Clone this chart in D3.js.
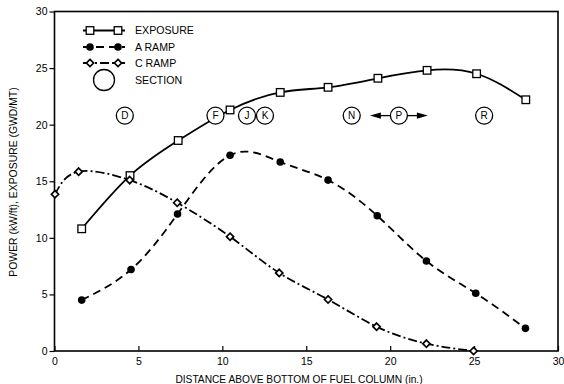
<!DOCTYPE html>
<html>
<head>
<meta charset="utf-8">
<script src="https://cdn.jsdelivr.net/npm/d3@7"></script>
<style>
    body { margin: 0; background: #fff; }
    svg { display: block; font-family: Arial, "Liberation Sans", Helvetica, sans-serif; }
</style>
</head>
<body>
<svg id="chart" width="564" height="384"></svg>
<script>
// distance above bottom of fuel column (in.)
const exposureX = [1.62, 4.5, 7.37, 10.46, 13.45, 16.3, 19.27, 22.2, 25.15, 28.08];
const exposureY = [10.8, 15.5, 18.6, 21.3, 22.85, 23.3, 24.1, 24.8, 24.5, 22.2];

const aRampX = [1.62, 4.56, 7.33, 10.46, 13.45, 16.3, 19.23, 22.16, 25.1, 28.06];
const aRampY = [4.5, 7.2, 12.1, 17.3, 16.7, 15.1, 11.95, 7.95, 5.1, 2.0];

const cRampX = [0.03, 1.44, 4.48, 7.31, 10.46, 13.39, 16.3, 19.19, 22.16, 24.97];
const cRampY = [13.85, 15.85, 15.1, 13.1, 10.1, 6.9, 4.55, 2.15, 0.65, 0.0];

const sectionLabels = ['D', 'F', 'J', 'K', 'N', 'P', 'R'];
const sectionX = [4.19, 9.59, 11.47, 12.54, 17.71, 20.52, 25.6];
const sectionY = 20.8;

const legendLabels = ['EXPOSURE', 'A RAMP', 'C RAMP', 'SECTION'];
const xTicks = [0, 5, 10, 15, 20, 25, 30];
const yTicks = [0, 5, 10, 15, 20, 25, 30];

const svg = d3.select('#chart');

const x = d3.scaleLinear().domain([0, 30]).range([54.5, 558]);
const y = d3.scaleLinear().domain([0, 30]).range([351, 11.5]);

const zip = (xs, ys) => xs.map((v, i) => [v, ys[i]]);

// frame
svg.append('rect')
    .attr('x', x(0)).attr('y', y(30))
    .attr('width', x(30) - x(0)).attr('height', y(0) - y(30))
    .attr('fill', 'none').attr('stroke', '#000').attr('stroke-width', 1.6);

// axes
const xAxis = svg.append('g')
    .attr('transform', `translate(0,${y(0)})`)
    .call(d3.axisBottom(x).tickValues(xTicks).tickSizeInner(-5).tickSizeOuter(0).tickPadding(5));

const yAxis = svg.append('g')
    .attr('transform', `translate(${x(0)},0)`)
    .call(d3.axisLeft(y).tickValues(yTicks).tickSize(5).tickPadding(2));

[xAxis, yAxis].forEach(a => {
    a.select('.domain').remove();
    a.selectAll('line').attr('stroke', '#000').attr('stroke-width', 1.2);
    a.selectAll('text').attr('font-size', 10.5).attr('fill', '#000');
});
xAxis.selectAll('text').attr('dy', '0.9em');

// axis titles
svg.append('text')
    .attr('x', 299).attr('y', 383)
    .attr('text-anchor', 'middle')
    .attr('font-size', 10.2)
    .attr('fill', '#000')
    .text('DISTANCE ABOVE BOTTOM OF FUEL COLUMN (in.)');

svg.append('text')
    .attr('transform', 'translate(17,182) rotate(-90)')
    .attr('text-anchor', 'middle')
    .attr('font-size', 10.4)
    .attr('fill', '#000')
    .text('POWER (kW/ft), EXPOSURE (GWD/MT)');

// curves
const line = d3.line()
    .x(d => x(d[0]))
    .y(d => y(d[1]))
    .curve(d3.curveNatural);

const series = [
    {name: 'exposure', data: zip(exposureX, exposureY), dash: null, marker: 'square'},
    {name: 'aRamp', data: zip(aRampX, aRampY), dash: '8,5', marker: 'dot'},
    {name: 'cRamp', data: zip(cRampX, cRampY), dash: '9,3,2,3', marker: 'diamond'}
];

const drawMarker = (g, type, cx, cy) => {
    if (type === 'square') {
        g.append('rect')
            .attr('x', cx - 3.8).attr('y', cy - 3.8)
            .attr('width', 7.6).attr('height', 7.6)
            .attr('fill', '#fff').attr('stroke', '#000').attr('stroke-width', 1.3);
    } else if (type === 'dot') {
        g.append('circle')
            .attr('cx', cx).attr('cy', cy).attr('r', 3.8)
            .attr('fill', '#000');
    } else {
        g.append('path')
            .attr('d', `M${cx},${cy - 3.6}L${cx + 3.6},${cy}L${cx},${cy + 3.6}L${cx - 3.6},${cy}Z`)
            .attr('fill', '#fff').attr('stroke', '#000').attr('stroke-width', 1.7);
    }
};

series.forEach(s => {
    svg.append('path')
        .datum(s.data)
        .attr('d', line)
        .attr('fill', 'none')
        .attr('stroke', '#000')
        .attr('stroke-width', 1.8)
        .attr('stroke-dasharray', s.dash);
});

series.forEach(s => {
    const g = svg.append('g').attr('class', `markers-${s.name}`);
    s.data.forEach(d => drawMarker(g, s.marker, x(d[0]), y(d[1])));
});

// sections
const sections = svg.append('g');
sectionLabels.forEach((label, i) => {
    const cx = x(sectionX[i]);
    const cy = y(sectionY);
    sections.append('circle')
        .attr('cx', cx).attr('cy', cy).attr('r', 8.5)
        .attr('fill', '#fff').attr('stroke', '#000').attr('stroke-width', 1.3);
    sections.append('text')
        .attr('x', cx).attr('y', cy)
        .attr('dy', '0.36em')
        .attr('text-anchor', 'middle')
        .attr('font-size', 10)
        .attr('fill', '#000')
        .text(label);
});

// arrows around P
const pIndex = sectionLabels.indexOf('P');
const px = x(sectionX[pIndex]);
const py = y(sectionY);
[-1, 1].forEach(dir => {
    const start = px + dir * 8.5;
    const tip = px + dir * 29;
    sections.append('line')
        .attr('x1', start).attr('y1', py)
        .attr('x2', tip - dir * 8).attr('y2', py)
        .attr('stroke', '#000').attr('stroke-width', 1.3);
    sections.append('path')
        .attr('d', `M${tip},${py}L${tip - dir * 11},${py - 3.2}L${tip - dir * 11},${py + 3.2}Z`)
        .attr('fill', '#000');
});

// legend
const legend = svg.append('g');
const legendRowY = [30.5, 47, 63, 80];
series.forEach((s, i) => {
    const ly = legendRowY[i];
    legend.append('line')
        .attr('x1', 83).attr('x2', 125)
        .attr('y1', ly).attr('y2', ly)
        .attr('stroke', '#000').attr('stroke-width', 1.8)
        .attr('stroke-dasharray', s.dash);
    drawMarker(legend, s.marker, 90, ly);
    drawMarker(legend, s.marker, 118, ly);
});
legend.append('circle')
    .attr('cx', 104).attr('cy', legendRowY[3]).attr('r', 10.5)
    .attr('fill', 'none').attr('stroke', '#000').attr('stroke-width', 1.3);

legendLabels.forEach((label, i) => {
    legend.append('text')
        .attr('x', 135).attr('y', legendRowY[i])
        .attr('dy', '0.36em')
        .attr('font-size', 10.6)
        .attr('fill', '#000')
        .text(label);
});
</script>
</body>
</html>
